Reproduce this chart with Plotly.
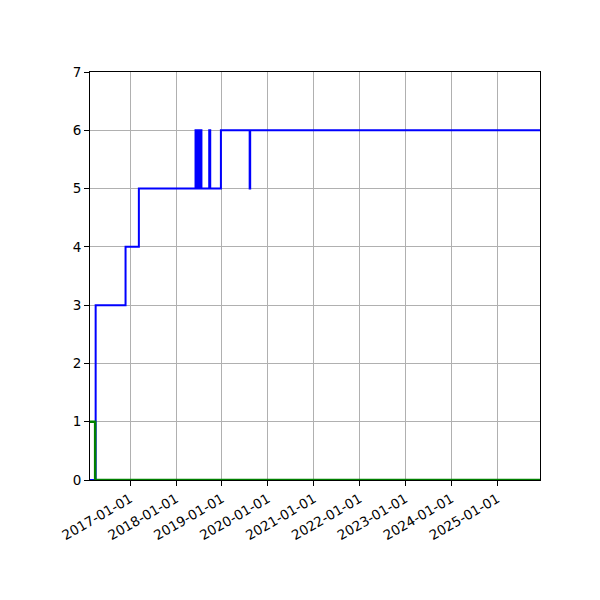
import plotly.graph_objects as go

# step series
blue_dates = ["2016-02-16", "2016-04-01", "2016-11-25", "2017-03-11",
              "2018-06-05", "2018-06-09", "2018-06-12", "2018-06-16", "2018-06-19",
              "2018-06-23", "2018-06-27", "2018-07-01", "2018-07-04", "2018-07-08",
              "2018-07-11", "2018-07-15", "2018-07-18", "2018-07-22",
              "2018-09-22", "2018-09-30", "2018-12-24", "2019-08-10", "2019-08-14",
              "2025-12-07"]
blue_vals = [0, 3, 4, 5,
             6, 5, 6, 5, 6,
             5, 6, 5, 6, 5,
             6, 5, 6, 5,
             6, 5, 6, 5, 6,
             6]

green_dates = ["2016-02-16", "2016-03-28", "2025-12-07"]
green_vals = [1, 0, 0]

x_ticks = ["2017-01-01", "2018-01-01", "2019-01-01", "2020-01-01", "2021-01-01",
           "2022-01-01", "2023-01-01", "2024-01-01", "2025-01-01"]

fig = go.Figure()
fig.add_trace(go.Scatter(x=blue_dates, y=blue_vals, mode="lines",
                         line=dict(color="#0000ff", width=2, shape="hv", simplify=False)))
fig.add_trace(go.Scatter(x=green_dates, y=green_vals, mode="lines",
                         line=dict(color="#008000", width=2.5, shape="hv", simplify=False)))

axis_style = dict(showline=True, linecolor="black", linewidth=1, mirror=True,
                  ticks="outside", ticklen=5, tickcolor="black", tickwidth=1,
                  showgrid=True, gridcolor="#b0b0b0", gridwidth=1, zeroline=False,
                  automargin=False,
                  tickfont=dict(family="DejaVu Sans", size=13.5, color="black"))

fig.update_xaxes(range=["2016-02-16", "2025-12-07"], tickvals=x_ticks,
                 ticktext=x_ticks, tickangle=-30, **axis_style)
fig.update_yaxes(range=[0, 7], dtick=1, **axis_style)

# page body adds an 8px offset, margins compensate for it
fig.update_layout(width=600, height=600, showlegend=False,
                  plot_bgcolor="white", paper_bgcolor="white",
                  margin=dict(l=82, r=68, t=64, b=128))

fig.write_html("out.html")
